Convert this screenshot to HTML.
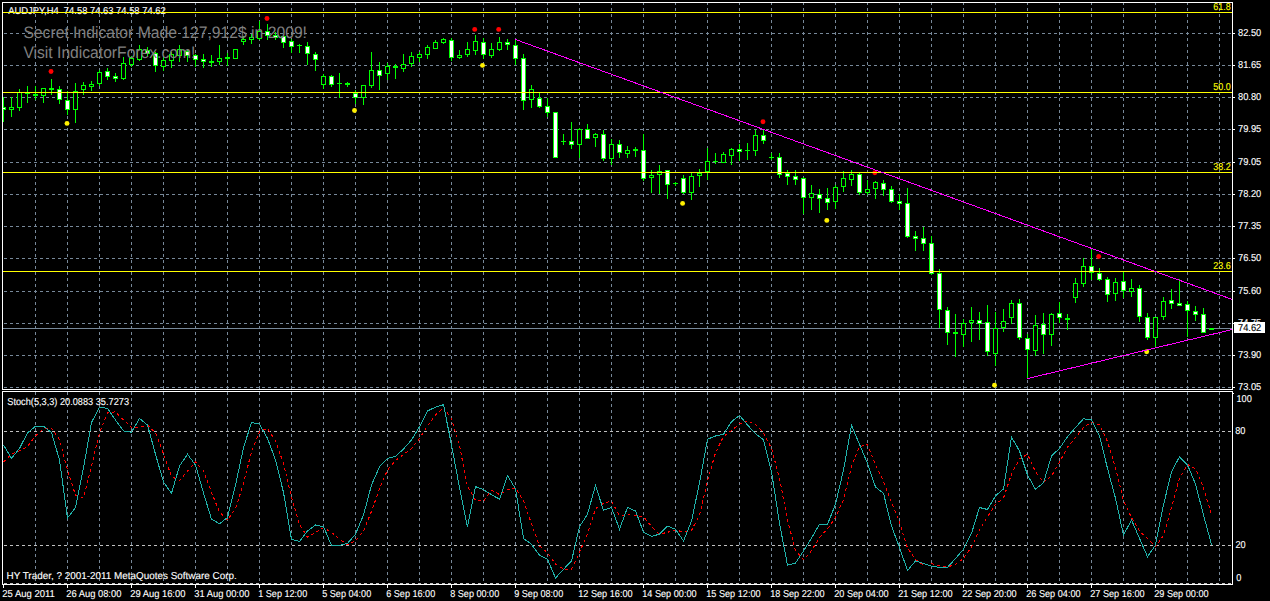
<!DOCTYPE html>
<html><head><meta charset="utf-8"><title>AUDJPY,H4</title>
<style>html,body{margin:0;padding:0;background:#000;width:1270px;height:601px;overflow:hidden}</style>
</head><body>
<svg width="1270" height="601" viewBox="0 0 1270 601" style="display:block;position:absolute;left:0;top:0" font-family="'Liberation Sans',sans-serif" text-rendering="geometricPrecision">
<rect width="1270" height="601" fill="#000"/>
<g shape-rendering="crispEdges">
<line x1="35.5" y1="3" x2="35.5" y2="5" stroke="#778899" stroke-width="1"/>
<line x1="35.5" y1="8" x2="35.5" y2="389" stroke="#778899" stroke-width="1" stroke-dasharray="3 3"/>
<line x1="35.5" y1="392" x2="35.5" y2="583" stroke="#778899" stroke-width="1" stroke-dasharray="3 3"/>
<line x1="67.5" y1="3" x2="67.5" y2="5" stroke="#778899" stroke-width="1"/>
<line x1="67.5" y1="8" x2="67.5" y2="389" stroke="#778899" stroke-width="1" stroke-dasharray="3 3"/>
<line x1="67.5" y1="392" x2="67.5" y2="583" stroke="#778899" stroke-width="1" stroke-dasharray="3 3"/>
<line x1="99.5" y1="3" x2="99.5" y2="5" stroke="#778899" stroke-width="1"/>
<line x1="99.5" y1="8" x2="99.5" y2="389" stroke="#778899" stroke-width="1" stroke-dasharray="3 3"/>
<line x1="99.5" y1="392" x2="99.5" y2="583" stroke="#778899" stroke-width="1" stroke-dasharray="3 3"/>
<line x1="131.5" y1="3" x2="131.5" y2="5" stroke="#778899" stroke-width="1"/>
<line x1="131.5" y1="8" x2="131.5" y2="389" stroke="#778899" stroke-width="1" stroke-dasharray="3 3"/>
<line x1="131.5" y1="392" x2="131.5" y2="583" stroke="#778899" stroke-width="1" stroke-dasharray="3 3"/>
<line x1="163.5" y1="3" x2="163.5" y2="5" stroke="#778899" stroke-width="1"/>
<line x1="163.5" y1="8" x2="163.5" y2="389" stroke="#778899" stroke-width="1" stroke-dasharray="3 3"/>
<line x1="163.5" y1="392" x2="163.5" y2="583" stroke="#778899" stroke-width="1" stroke-dasharray="3 3"/>
<line x1="195.5" y1="3" x2="195.5" y2="5" stroke="#778899" stroke-width="1"/>
<line x1="195.5" y1="8" x2="195.5" y2="389" stroke="#778899" stroke-width="1" stroke-dasharray="3 3"/>
<line x1="195.5" y1="392" x2="195.5" y2="583" stroke="#778899" stroke-width="1" stroke-dasharray="3 3"/>
<line x1="227.5" y1="3" x2="227.5" y2="5" stroke="#778899" stroke-width="1"/>
<line x1="227.5" y1="8" x2="227.5" y2="389" stroke="#778899" stroke-width="1" stroke-dasharray="3 3"/>
<line x1="227.5" y1="392" x2="227.5" y2="583" stroke="#778899" stroke-width="1" stroke-dasharray="3 3"/>
<line x1="259.5" y1="3" x2="259.5" y2="5" stroke="#778899" stroke-width="1"/>
<line x1="259.5" y1="8" x2="259.5" y2="389" stroke="#778899" stroke-width="1" stroke-dasharray="3 3"/>
<line x1="259.5" y1="392" x2="259.5" y2="583" stroke="#778899" stroke-width="1" stroke-dasharray="3 3"/>
<line x1="291.5" y1="3" x2="291.5" y2="5" stroke="#778899" stroke-width="1"/>
<line x1="291.5" y1="8" x2="291.5" y2="389" stroke="#778899" stroke-width="1" stroke-dasharray="3 3"/>
<line x1="291.5" y1="392" x2="291.5" y2="583" stroke="#778899" stroke-width="1" stroke-dasharray="3 3"/>
<line x1="323.5" y1="3" x2="323.5" y2="5" stroke="#778899" stroke-width="1"/>
<line x1="323.5" y1="8" x2="323.5" y2="389" stroke="#778899" stroke-width="1" stroke-dasharray="3 3"/>
<line x1="323.5" y1="392" x2="323.5" y2="583" stroke="#778899" stroke-width="1" stroke-dasharray="3 3"/>
<line x1="355.5" y1="3" x2="355.5" y2="5" stroke="#778899" stroke-width="1"/>
<line x1="355.5" y1="8" x2="355.5" y2="389" stroke="#778899" stroke-width="1" stroke-dasharray="3 3"/>
<line x1="355.5" y1="392" x2="355.5" y2="583" stroke="#778899" stroke-width="1" stroke-dasharray="3 3"/>
<line x1="387.5" y1="3" x2="387.5" y2="5" stroke="#778899" stroke-width="1"/>
<line x1="387.5" y1="8" x2="387.5" y2="389" stroke="#778899" stroke-width="1" stroke-dasharray="3 3"/>
<line x1="387.5" y1="392" x2="387.5" y2="583" stroke="#778899" stroke-width="1" stroke-dasharray="3 3"/>
<line x1="419.5" y1="3" x2="419.5" y2="5" stroke="#778899" stroke-width="1"/>
<line x1="419.5" y1="8" x2="419.5" y2="389" stroke="#778899" stroke-width="1" stroke-dasharray="3 3"/>
<line x1="419.5" y1="392" x2="419.5" y2="583" stroke="#778899" stroke-width="1" stroke-dasharray="3 3"/>
<line x1="451.5" y1="3" x2="451.5" y2="5" stroke="#778899" stroke-width="1"/>
<line x1="451.5" y1="8" x2="451.5" y2="389" stroke="#778899" stroke-width="1" stroke-dasharray="3 3"/>
<line x1="451.5" y1="392" x2="451.5" y2="583" stroke="#778899" stroke-width="1" stroke-dasharray="3 3"/>
<line x1="483.5" y1="3" x2="483.5" y2="5" stroke="#778899" stroke-width="1"/>
<line x1="483.5" y1="8" x2="483.5" y2="389" stroke="#778899" stroke-width="1" stroke-dasharray="3 3"/>
<line x1="483.5" y1="392" x2="483.5" y2="583" stroke="#778899" stroke-width="1" stroke-dasharray="3 3"/>
<line x1="515.5" y1="3" x2="515.5" y2="5" stroke="#778899" stroke-width="1"/>
<line x1="515.5" y1="8" x2="515.5" y2="389" stroke="#778899" stroke-width="1" stroke-dasharray="3 3"/>
<line x1="515.5" y1="392" x2="515.5" y2="583" stroke="#778899" stroke-width="1" stroke-dasharray="3 3"/>
<line x1="547.5" y1="3" x2="547.5" y2="5" stroke="#778899" stroke-width="1"/>
<line x1="547.5" y1="8" x2="547.5" y2="389" stroke="#778899" stroke-width="1" stroke-dasharray="3 3"/>
<line x1="547.5" y1="392" x2="547.5" y2="583" stroke="#778899" stroke-width="1" stroke-dasharray="3 3"/>
<line x1="579.5" y1="3" x2="579.5" y2="5" stroke="#778899" stroke-width="1"/>
<line x1="579.5" y1="8" x2="579.5" y2="389" stroke="#778899" stroke-width="1" stroke-dasharray="3 3"/>
<line x1="579.5" y1="392" x2="579.5" y2="583" stroke="#778899" stroke-width="1" stroke-dasharray="3 3"/>
<line x1="611.5" y1="3" x2="611.5" y2="5" stroke="#778899" stroke-width="1"/>
<line x1="611.5" y1="8" x2="611.5" y2="389" stroke="#778899" stroke-width="1" stroke-dasharray="3 3"/>
<line x1="611.5" y1="392" x2="611.5" y2="583" stroke="#778899" stroke-width="1" stroke-dasharray="3 3"/>
<line x1="643.5" y1="3" x2="643.5" y2="5" stroke="#778899" stroke-width="1"/>
<line x1="643.5" y1="8" x2="643.5" y2="389" stroke="#778899" stroke-width="1" stroke-dasharray="3 3"/>
<line x1="643.5" y1="392" x2="643.5" y2="583" stroke="#778899" stroke-width="1" stroke-dasharray="3 3"/>
<line x1="675.5" y1="3" x2="675.5" y2="5" stroke="#778899" stroke-width="1"/>
<line x1="675.5" y1="8" x2="675.5" y2="389" stroke="#778899" stroke-width="1" stroke-dasharray="3 3"/>
<line x1="675.5" y1="392" x2="675.5" y2="583" stroke="#778899" stroke-width="1" stroke-dasharray="3 3"/>
<line x1="707.5" y1="3" x2="707.5" y2="5" stroke="#778899" stroke-width="1"/>
<line x1="707.5" y1="8" x2="707.5" y2="389" stroke="#778899" stroke-width="1" stroke-dasharray="3 3"/>
<line x1="707.5" y1="392" x2="707.5" y2="583" stroke="#778899" stroke-width="1" stroke-dasharray="3 3"/>
<line x1="739.5" y1="3" x2="739.5" y2="5" stroke="#778899" stroke-width="1"/>
<line x1="739.5" y1="8" x2="739.5" y2="389" stroke="#778899" stroke-width="1" stroke-dasharray="3 3"/>
<line x1="739.5" y1="392" x2="739.5" y2="583" stroke="#778899" stroke-width="1" stroke-dasharray="3 3"/>
<line x1="771.5" y1="3" x2="771.5" y2="5" stroke="#778899" stroke-width="1"/>
<line x1="771.5" y1="8" x2="771.5" y2="389" stroke="#778899" stroke-width="1" stroke-dasharray="3 3"/>
<line x1="771.5" y1="392" x2="771.5" y2="583" stroke="#778899" stroke-width="1" stroke-dasharray="3 3"/>
<line x1="803.5" y1="3" x2="803.5" y2="5" stroke="#778899" stroke-width="1"/>
<line x1="803.5" y1="8" x2="803.5" y2="389" stroke="#778899" stroke-width="1" stroke-dasharray="3 3"/>
<line x1="803.5" y1="392" x2="803.5" y2="583" stroke="#778899" stroke-width="1" stroke-dasharray="3 3"/>
<line x1="835.5" y1="3" x2="835.5" y2="5" stroke="#778899" stroke-width="1"/>
<line x1="835.5" y1="8" x2="835.5" y2="389" stroke="#778899" stroke-width="1" stroke-dasharray="3 3"/>
<line x1="835.5" y1="392" x2="835.5" y2="583" stroke="#778899" stroke-width="1" stroke-dasharray="3 3"/>
<line x1="867.5" y1="3" x2="867.5" y2="5" stroke="#778899" stroke-width="1"/>
<line x1="867.5" y1="8" x2="867.5" y2="389" stroke="#778899" stroke-width="1" stroke-dasharray="3 3"/>
<line x1="867.5" y1="392" x2="867.5" y2="583" stroke="#778899" stroke-width="1" stroke-dasharray="3 3"/>
<line x1="899.5" y1="3" x2="899.5" y2="5" stroke="#778899" stroke-width="1"/>
<line x1="899.5" y1="8" x2="899.5" y2="389" stroke="#778899" stroke-width="1" stroke-dasharray="3 3"/>
<line x1="899.5" y1="392" x2="899.5" y2="583" stroke="#778899" stroke-width="1" stroke-dasharray="3 3"/>
<line x1="931.5" y1="3" x2="931.5" y2="5" stroke="#778899" stroke-width="1"/>
<line x1="931.5" y1="8" x2="931.5" y2="389" stroke="#778899" stroke-width="1" stroke-dasharray="3 3"/>
<line x1="931.5" y1="392" x2="931.5" y2="583" stroke="#778899" stroke-width="1" stroke-dasharray="3 3"/>
<line x1="963.5" y1="3" x2="963.5" y2="5" stroke="#778899" stroke-width="1"/>
<line x1="963.5" y1="8" x2="963.5" y2="389" stroke="#778899" stroke-width="1" stroke-dasharray="3 3"/>
<line x1="963.5" y1="392" x2="963.5" y2="583" stroke="#778899" stroke-width="1" stroke-dasharray="3 3"/>
<line x1="995.5" y1="3" x2="995.5" y2="5" stroke="#778899" stroke-width="1"/>
<line x1="995.5" y1="8" x2="995.5" y2="389" stroke="#778899" stroke-width="1" stroke-dasharray="3 3"/>
<line x1="995.5" y1="392" x2="995.5" y2="583" stroke="#778899" stroke-width="1" stroke-dasharray="3 3"/>
<line x1="1027.5" y1="3" x2="1027.5" y2="5" stroke="#778899" stroke-width="1"/>
<line x1="1027.5" y1="8" x2="1027.5" y2="389" stroke="#778899" stroke-width="1" stroke-dasharray="3 3"/>
<line x1="1027.5" y1="392" x2="1027.5" y2="583" stroke="#778899" stroke-width="1" stroke-dasharray="3 3"/>
<line x1="1059.5" y1="3" x2="1059.5" y2="5" stroke="#778899" stroke-width="1"/>
<line x1="1059.5" y1="8" x2="1059.5" y2="389" stroke="#778899" stroke-width="1" stroke-dasharray="3 3"/>
<line x1="1059.5" y1="392" x2="1059.5" y2="583" stroke="#778899" stroke-width="1" stroke-dasharray="3 3"/>
<line x1="1091.5" y1="3" x2="1091.5" y2="5" stroke="#778899" stroke-width="1"/>
<line x1="1091.5" y1="8" x2="1091.5" y2="389" stroke="#778899" stroke-width="1" stroke-dasharray="3 3"/>
<line x1="1091.5" y1="392" x2="1091.5" y2="583" stroke="#778899" stroke-width="1" stroke-dasharray="3 3"/>
<line x1="1123.5" y1="3" x2="1123.5" y2="5" stroke="#778899" stroke-width="1"/>
<line x1="1123.5" y1="8" x2="1123.5" y2="389" stroke="#778899" stroke-width="1" stroke-dasharray="3 3"/>
<line x1="1123.5" y1="392" x2="1123.5" y2="583" stroke="#778899" stroke-width="1" stroke-dasharray="3 3"/>
<line x1="1155.5" y1="3" x2="1155.5" y2="5" stroke="#778899" stroke-width="1"/>
<line x1="1155.5" y1="8" x2="1155.5" y2="389" stroke="#778899" stroke-width="1" stroke-dasharray="3 3"/>
<line x1="1155.5" y1="392" x2="1155.5" y2="583" stroke="#778899" stroke-width="1" stroke-dasharray="3 3"/>
<line x1="1187.5" y1="3" x2="1187.5" y2="5" stroke="#778899" stroke-width="1"/>
<line x1="1187.5" y1="8" x2="1187.5" y2="389" stroke="#778899" stroke-width="1" stroke-dasharray="3 3"/>
<line x1="1187.5" y1="392" x2="1187.5" y2="583" stroke="#778899" stroke-width="1" stroke-dasharray="3 3"/>
<line x1="1219.5" y1="3" x2="1219.5" y2="5" stroke="#778899" stroke-width="1"/>
<line x1="1219.5" y1="8" x2="1219.5" y2="389" stroke="#778899" stroke-width="1" stroke-dasharray="3 3"/>
<line x1="1219.5" y1="392" x2="1219.5" y2="583" stroke="#778899" stroke-width="1" stroke-dasharray="3 3"/>
<line x1="4" y1="33.5" x2="1232" y2="33.5" stroke="#778899" stroke-width="1" stroke-dasharray="3 3"/>
<line x1="4" y1="65.5" x2="1232" y2="65.5" stroke="#778899" stroke-width="1" stroke-dasharray="3 3"/>
<line x1="4" y1="97.5" x2="1232" y2="97.5" stroke="#778899" stroke-width="1" stroke-dasharray="3 3"/>
<line x1="4" y1="129.5" x2="1232" y2="129.5" stroke="#778899" stroke-width="1" stroke-dasharray="3 3"/>
<line x1="4" y1="162.5" x2="1232" y2="162.5" stroke="#778899" stroke-width="1" stroke-dasharray="3 3"/>
<line x1="4" y1="194.5" x2="1232" y2="194.5" stroke="#778899" stroke-width="1" stroke-dasharray="3 3"/>
<line x1="4" y1="226.5" x2="1232" y2="226.5" stroke="#778899" stroke-width="1" stroke-dasharray="3 3"/>
<line x1="4" y1="258.5" x2="1232" y2="258.5" stroke="#778899" stroke-width="1" stroke-dasharray="3 3"/>
<line x1="4" y1="291.5" x2="1232" y2="291.5" stroke="#778899" stroke-width="1" stroke-dasharray="3 3"/>
<line x1="4" y1="323.5" x2="1232" y2="323.5" stroke="#778899" stroke-width="1" stroke-dasharray="3 3"/>
<line x1="4" y1="355.5" x2="1232" y2="355.5" stroke="#778899" stroke-width="1" stroke-dasharray="3 3"/>
<line x1="4" y1="387.5" x2="1232" y2="387.5" stroke="#778899" stroke-width="1" stroke-dasharray="3 3"/>
<line x1="4" y1="431.5" x2="1232" y2="431.5" stroke="#c0c0c0" stroke-width="1" stroke-dasharray="3 3"/>
<line x1="4" y1="545.5" x2="1232" y2="545.5" stroke="#c0c0c0" stroke-width="1" stroke-dasharray="3 3"/>
<line x1="4" y1="583.5" x2="1232" y2="583.5" stroke="#c0c0c0" stroke-width="1" stroke-dasharray="3 3"/>
</g>
<g shape-rendering="crispEdges">
<line x1="3" y1="328.5" x2="1232" y2="328.5" stroke="#778899" stroke-width="1"/>
<rect x="3" y="97" width="1" height="25" fill="#00ff00"/>
<rect x="3" y="107" width="3" height="3" fill="#00ff00"/>
<rect x="3" y="108" width="2" height="1" fill="#fff"/>
<rect x="11" y="97" width="1" height="20" fill="#00ff00"/>
<rect x="9" y="107" width="5" height="3" fill="#00ff00"/>
<rect x="10" y="108" width="3" height="1" fill="#000"/>
<rect x="19" y="89" width="1" height="22" fill="#00ff00"/>
<rect x="17" y="92" width="5" height="16" fill="#00ff00"/>
<rect x="18" y="93" width="3" height="14" fill="#000"/>
<rect x="27" y="86" width="1" height="17" fill="#00ff00"/>
<rect x="25" y="93" width="5" height="1" fill="#00ff00"/>
<rect x="35" y="86" width="1" height="14" fill="#00ff00"/>
<rect x="33" y="94" width="5" height="2" fill="#00ff00"/>
<rect x="43" y="88" width="1" height="15" fill="#00ff00"/>
<rect x="41" y="88" width="5" height="8" fill="#00ff00"/>
<rect x="42" y="89" width="3" height="6" fill="#000"/>
<rect x="51" y="79" width="1" height="16" fill="#00ff00"/>
<rect x="49" y="88" width="5" height="2" fill="#00ff00"/>
<rect x="59" y="86" width="1" height="18" fill="#00ff00"/>
<rect x="57" y="89" width="5" height="11" fill="#00ff00"/>
<rect x="58" y="90" width="3" height="9" fill="#fff"/>
<rect x="67" y="91" width="1" height="24" fill="#00ff00"/>
<rect x="65" y="100" width="5" height="10" fill="#00ff00"/>
<rect x="66" y="101" width="3" height="8" fill="#fff"/>
<rect x="75" y="83" width="1" height="40" fill="#00ff00"/>
<rect x="73" y="91" width="5" height="19" fill="#00ff00"/>
<rect x="74" y="92" width="3" height="17" fill="#000"/>
<rect x="83" y="82" width="1" height="13" fill="#00ff00"/>
<rect x="81" y="85" width="5" height="5" fill="#00ff00"/>
<rect x="82" y="86" width="3" height="3" fill="#000"/>
<rect x="91" y="81" width="1" height="10" fill="#00ff00"/>
<rect x="89" y="84" width="5" height="3" fill="#00ff00"/>
<rect x="90" y="85" width="3" height="1" fill="#000"/>
<rect x="99" y="70" width="1" height="16" fill="#00ff00"/>
<rect x="97" y="72" width="5" height="12" fill="#00ff00"/>
<rect x="98" y="73" width="3" height="10" fill="#000"/>
<rect x="107" y="68" width="1" height="12" fill="#00ff00"/>
<rect x="105" y="71" width="5" height="6" fill="#00ff00"/>
<rect x="106" y="72" width="3" height="4" fill="#fff"/>
<rect x="115" y="73" width="1" height="9" fill="#00ff00"/>
<rect x="113" y="76" width="5" height="3" fill="#00ff00"/>
<rect x="114" y="77" width="3" height="1" fill="#fff"/>
<rect x="123" y="57" width="1" height="23" fill="#00ff00"/>
<rect x="121" y="63" width="5" height="16" fill="#00ff00"/>
<rect x="122" y="64" width="3" height="14" fill="#000"/>
<rect x="131" y="56" width="1" height="11" fill="#00ff00"/>
<rect x="129" y="58" width="5" height="7" fill="#00ff00"/>
<rect x="130" y="59" width="3" height="5" fill="#000"/>
<rect x="139" y="45" width="1" height="16" fill="#00ff00"/>
<rect x="137" y="49" width="5" height="11" fill="#00ff00"/>
<rect x="138" y="50" width="3" height="9" fill="#000"/>
<rect x="147" y="47" width="1" height="9" fill="#00ff00"/>
<rect x="145" y="50" width="5" height="4" fill="#00ff00"/>
<rect x="146" y="51" width="3" height="2" fill="#fff"/>
<rect x="155" y="52" width="1" height="20" fill="#00ff00"/>
<rect x="153" y="53" width="5" height="13" fill="#00ff00"/>
<rect x="154" y="54" width="3" height="11" fill="#fff"/>
<rect x="163" y="57" width="1" height="14" fill="#00ff00"/>
<rect x="161" y="60" width="5" height="7" fill="#00ff00"/>
<rect x="162" y="61" width="3" height="5" fill="#000"/>
<rect x="171" y="52" width="1" height="16" fill="#00ff00"/>
<rect x="169" y="54" width="5" height="7" fill="#00ff00"/>
<rect x="170" y="55" width="3" height="5" fill="#000"/>
<rect x="179" y="45" width="1" height="17" fill="#00ff00"/>
<rect x="177" y="49" width="5" height="7" fill="#00ff00"/>
<rect x="178" y="50" width="3" height="5" fill="#000"/>
<rect x="187" y="49" width="1" height="13" fill="#00ff00"/>
<rect x="185" y="51" width="5" height="5" fill="#00ff00"/>
<rect x="186" y="52" width="3" height="3" fill="#fff"/>
<rect x="195" y="54" width="1" height="13" fill="#00ff00"/>
<rect x="193" y="55" width="5" height="5" fill="#00ff00"/>
<rect x="194" y="56" width="3" height="3" fill="#fff"/>
<rect x="203" y="54" width="1" height="14" fill="#00ff00"/>
<rect x="201" y="59" width="5" height="3" fill="#00ff00"/>
<rect x="202" y="60" width="3" height="1" fill="#fff"/>
<rect x="211" y="55" width="1" height="12" fill="#00ff00"/>
<rect x="209" y="61" width="5" height="2" fill="#00ff00"/>
<rect x="219" y="45" width="1" height="20" fill="#00ff00"/>
<rect x="217" y="58" width="5" height="4" fill="#00ff00"/>
<rect x="218" y="59" width="3" height="2" fill="#000"/>
<rect x="227" y="53" width="1" height="13" fill="#00ff00"/>
<rect x="225" y="57" width="5" height="2" fill="#00ff00"/>
<rect x="235" y="49" width="1" height="10" fill="#00ff00"/>
<rect x="233" y="49" width="5" height="10" fill="#00ff00"/>
<rect x="234" y="50" width="3" height="8" fill="#000"/>
<rect x="243" y="36" width="1" height="9" fill="#00ff00"/>
<rect x="241" y="39" width="5" height="3" fill="#00ff00"/>
<rect x="242" y="40" width="3" height="1" fill="#000"/>
<rect x="251" y="34" width="1" height="10" fill="#00ff00"/>
<rect x="249" y="37" width="5" height="3" fill="#00ff00"/>
<rect x="250" y="38" width="3" height="1" fill="#000"/>
<rect x="259" y="21" width="1" height="19" fill="#00ff00"/>
<rect x="257" y="31" width="5" height="8" fill="#00ff00"/>
<rect x="258" y="32" width="3" height="6" fill="#000"/>
<rect x="267" y="24" width="1" height="16" fill="#00ff00"/>
<rect x="265" y="31" width="5" height="5" fill="#00ff00"/>
<rect x="266" y="32" width="3" height="3" fill="#fff"/>
<rect x="275" y="32" width="1" height="8" fill="#00ff00"/>
<rect x="273" y="35" width="5" height="3" fill="#00ff00"/>
<rect x="274" y="36" width="3" height="1" fill="#fff"/>
<rect x="283" y="36" width="1" height="12" fill="#00ff00"/>
<rect x="281" y="36" width="5" height="7" fill="#00ff00"/>
<rect x="282" y="37" width="3" height="5" fill="#fff"/>
<rect x="291" y="39" width="1" height="14" fill="#00ff00"/>
<rect x="289" y="41" width="5" height="6" fill="#00ff00"/>
<rect x="290" y="42" width="3" height="4" fill="#fff"/>
<rect x="299" y="44" width="1" height="9" fill="#00ff00"/>
<rect x="297" y="45" width="5" height="1" fill="#00ff00"/>
<rect x="307" y="42" width="1" height="23" fill="#00ff00"/>
<rect x="305" y="46" width="5" height="8" fill="#00ff00"/>
<rect x="306" y="47" width="3" height="6" fill="#fff"/>
<rect x="315" y="52" width="1" height="19" fill="#00ff00"/>
<rect x="313" y="54" width="5" height="6" fill="#00ff00"/>
<rect x="314" y="55" width="3" height="4" fill="#fff"/>
<rect x="323" y="74" width="1" height="15" fill="#00ff00"/>
<rect x="321" y="76" width="5" height="9" fill="#00ff00"/>
<rect x="322" y="77" width="3" height="7" fill="#000"/>
<rect x="331" y="75" width="1" height="12" fill="#00ff00"/>
<rect x="329" y="76" width="5" height="9" fill="#00ff00"/>
<rect x="330" y="77" width="3" height="7" fill="#fff"/>
<rect x="339" y="73" width="1" height="25" fill="#00ff00"/>
<rect x="337" y="83" width="5" height="1" fill="#00ff00"/>
<rect x="347" y="82" width="1" height="5" fill="#00ff00"/>
<rect x="345" y="83" width="5" height="2" fill="#00ff00"/>
<rect x="355" y="90" width="1" height="14" fill="#00ff00"/>
<rect x="353" y="93" width="5" height="5" fill="#00ff00"/>
<rect x="354" y="94" width="3" height="3" fill="#fff"/>
<rect x="363" y="85" width="1" height="20" fill="#00ff00"/>
<rect x="361" y="85" width="5" height="13" fill="#00ff00"/>
<rect x="362" y="86" width="3" height="11" fill="#000"/>
<rect x="371" y="52" width="1" height="36" fill="#00ff00"/>
<rect x="369" y="70" width="5" height="16" fill="#00ff00"/>
<rect x="370" y="71" width="3" height="14" fill="#000"/>
<rect x="379" y="62" width="1" height="28" fill="#00ff00"/>
<rect x="377" y="70" width="5" height="6" fill="#00ff00"/>
<rect x="378" y="71" width="3" height="4" fill="#fff"/>
<rect x="387" y="63" width="1" height="17" fill="#00ff00"/>
<rect x="385" y="66" width="5" height="8" fill="#00ff00"/>
<rect x="386" y="67" width="3" height="6" fill="#000"/>
<rect x="395" y="64" width="1" height="15" fill="#00ff00"/>
<rect x="393" y="66" width="5" height="2" fill="#00ff00"/>
<rect x="403" y="54" width="1" height="18" fill="#00ff00"/>
<rect x="401" y="64" width="5" height="5" fill="#00ff00"/>
<rect x="402" y="65" width="3" height="3" fill="#000"/>
<rect x="411" y="52" width="1" height="15" fill="#00ff00"/>
<rect x="409" y="56" width="5" height="8" fill="#00ff00"/>
<rect x="410" y="57" width="3" height="6" fill="#000"/>
<rect x="419" y="52" width="1" height="10" fill="#00ff00"/>
<rect x="417" y="54" width="5" height="4" fill="#00ff00"/>
<rect x="418" y="55" width="3" height="2" fill="#000"/>
<rect x="427" y="45" width="1" height="14" fill="#00ff00"/>
<rect x="425" y="47" width="5" height="8" fill="#00ff00"/>
<rect x="426" y="48" width="3" height="6" fill="#000"/>
<rect x="435" y="40" width="1" height="9" fill="#00ff00"/>
<rect x="433" y="42" width="5" height="7" fill="#00ff00"/>
<rect x="434" y="43" width="3" height="5" fill="#000"/>
<rect x="443" y="38" width="1" height="6" fill="#00ff00"/>
<rect x="441" y="39" width="5" height="4" fill="#00ff00"/>
<rect x="442" y="40" width="3" height="2" fill="#000"/>
<rect x="451" y="38" width="1" height="23" fill="#00ff00"/>
<rect x="449" y="40" width="5" height="18" fill="#00ff00"/>
<rect x="450" y="41" width="3" height="16" fill="#fff"/>
<rect x="459" y="50" width="1" height="9" fill="#00ff00"/>
<rect x="457" y="55" width="5" height="3" fill="#00ff00"/>
<rect x="458" y="56" width="3" height="1" fill="#000"/>
<rect x="467" y="42" width="1" height="15" fill="#00ff00"/>
<rect x="465" y="49" width="5" height="6" fill="#00ff00"/>
<rect x="466" y="50" width="3" height="4" fill="#000"/>
<rect x="475" y="35" width="1" height="20" fill="#00ff00"/>
<rect x="473" y="41" width="5" height="10" fill="#00ff00"/>
<rect x="474" y="42" width="3" height="8" fill="#000"/>
<rect x="483" y="38" width="1" height="21" fill="#00ff00"/>
<rect x="481" y="42" width="5" height="13" fill="#00ff00"/>
<rect x="482" y="43" width="3" height="11" fill="#fff"/>
<rect x="491" y="43" width="1" height="15" fill="#00ff00"/>
<rect x="489" y="49" width="5" height="7" fill="#00ff00"/>
<rect x="490" y="50" width="3" height="5" fill="#000"/>
<rect x="499" y="37" width="1" height="14" fill="#00ff00"/>
<rect x="497" y="42" width="5" height="8" fill="#00ff00"/>
<rect x="498" y="43" width="3" height="6" fill="#000"/>
<rect x="507" y="39" width="1" height="11" fill="#00ff00"/>
<rect x="505" y="42" width="5" height="3" fill="#00ff00"/>
<rect x="506" y="43" width="3" height="1" fill="#fff"/>
<rect x="515" y="40" width="1" height="25" fill="#00ff00"/>
<rect x="513" y="45" width="5" height="14" fill="#00ff00"/>
<rect x="514" y="46" width="3" height="12" fill="#fff"/>
<rect x="523" y="54" width="1" height="56" fill="#00ff00"/>
<rect x="521" y="58" width="5" height="43" fill="#00ff00"/>
<rect x="522" y="59" width="3" height="41" fill="#fff"/>
<rect x="531" y="85" width="1" height="23" fill="#00ff00"/>
<rect x="529" y="89" width="5" height="11" fill="#00ff00"/>
<rect x="530" y="90" width="3" height="9" fill="#000"/>
<rect x="539" y="93" width="1" height="15" fill="#00ff00"/>
<rect x="537" y="98" width="5" height="9" fill="#00ff00"/>
<rect x="538" y="99" width="3" height="7" fill="#fff"/>
<rect x="547" y="98" width="1" height="19" fill="#00ff00"/>
<rect x="545" y="106" width="5" height="7" fill="#00ff00"/>
<rect x="546" y="107" width="3" height="5" fill="#fff"/>
<rect x="555" y="112" width="1" height="46" fill="#00ff00"/>
<rect x="553" y="112" width="5" height="46" fill="#00ff00"/>
<rect x="554" y="113" width="3" height="44" fill="#fff"/>
<rect x="563" y="134" width="1" height="11" fill="#00ff00"/>
<rect x="561" y="141" width="5" height="1" fill="#00ff00"/>
<rect x="571" y="122" width="1" height="27" fill="#00ff00"/>
<rect x="569" y="141" width="5" height="4" fill="#00ff00"/>
<rect x="570" y="142" width="3" height="2" fill="#fff"/>
<rect x="579" y="128" width="1" height="30" fill="#00ff00"/>
<rect x="577" y="129" width="5" height="16" fill="#00ff00"/>
<rect x="578" y="130" width="3" height="14" fill="#000"/>
<rect x="587" y="124" width="1" height="15" fill="#00ff00"/>
<rect x="585" y="129" width="5" height="10" fill="#00ff00"/>
<rect x="586" y="130" width="3" height="8" fill="#fff"/>
<rect x="595" y="133" width="1" height="14" fill="#00ff00"/>
<rect x="593" y="134" width="5" height="4" fill="#00ff00"/>
<rect x="594" y="135" width="3" height="2" fill="#000"/>
<rect x="603" y="130" width="1" height="31" fill="#00ff00"/>
<rect x="601" y="134" width="5" height="25" fill="#00ff00"/>
<rect x="602" y="135" width="3" height="23" fill="#fff"/>
<rect x="611" y="139" width="1" height="26" fill="#00ff00"/>
<rect x="609" y="144" width="5" height="15" fill="#00ff00"/>
<rect x="610" y="145" width="3" height="13" fill="#000"/>
<rect x="619" y="140" width="1" height="18" fill="#00ff00"/>
<rect x="617" y="144" width="5" height="9" fill="#00ff00"/>
<rect x="618" y="145" width="3" height="7" fill="#fff"/>
<rect x="627" y="146" width="1" height="12" fill="#00ff00"/>
<rect x="625" y="150" width="5" height="4" fill="#00ff00"/>
<rect x="626" y="151" width="3" height="2" fill="#000"/>
<rect x="635" y="147" width="1" height="10" fill="#00ff00"/>
<rect x="633" y="149" width="5" height="2" fill="#00ff00"/>
<rect x="643" y="134" width="1" height="47" fill="#00ff00"/>
<rect x="641" y="150" width="5" height="29" fill="#00ff00"/>
<rect x="642" y="151" width="3" height="27" fill="#fff"/>
<rect x="651" y="170" width="1" height="23" fill="#00ff00"/>
<rect x="649" y="175" width="5" height="3" fill="#00ff00"/>
<rect x="650" y="176" width="3" height="1" fill="#000"/>
<rect x="659" y="165" width="1" height="29" fill="#00ff00"/>
<rect x="657" y="171" width="5" height="4" fill="#00ff00"/>
<rect x="658" y="172" width="3" height="2" fill="#000"/>
<rect x="667" y="170" width="1" height="29" fill="#00ff00"/>
<rect x="665" y="170" width="5" height="15" fill="#00ff00"/>
<rect x="666" y="171" width="3" height="13" fill="#fff"/>
<rect x="675" y="182" width="1" height="4" fill="#00ff00"/>
<rect x="673" y="183" width="5" height="1" fill="#00ff00"/>
<rect x="683" y="175" width="1" height="19" fill="#00ff00"/>
<rect x="681" y="178" width="5" height="15" fill="#00ff00"/>
<rect x="682" y="179" width="3" height="13" fill="#fff"/>
<rect x="691" y="173" width="1" height="27" fill="#00ff00"/>
<rect x="689" y="176" width="5" height="17" fill="#00ff00"/>
<rect x="690" y="177" width="3" height="15" fill="#000"/>
<rect x="699" y="169" width="1" height="18" fill="#00ff00"/>
<rect x="697" y="173" width="5" height="3" fill="#00ff00"/>
<rect x="698" y="174" width="3" height="1" fill="#000"/>
<rect x="707" y="148" width="1" height="32" fill="#00ff00"/>
<rect x="705" y="161" width="5" height="11" fill="#00ff00"/>
<rect x="706" y="162" width="3" height="9" fill="#000"/>
<rect x="715" y="153" width="1" height="11" fill="#00ff00"/>
<rect x="713" y="161" width="5" height="1" fill="#00ff00"/>
<rect x="723" y="152" width="1" height="11" fill="#00ff00"/>
<rect x="721" y="154" width="5" height="9" fill="#00ff00"/>
<rect x="722" y="155" width="3" height="7" fill="#000"/>
<rect x="731" y="148" width="1" height="17" fill="#00ff00"/>
<rect x="729" y="149" width="5" height="7" fill="#00ff00"/>
<rect x="730" y="150" width="3" height="5" fill="#000"/>
<rect x="739" y="144" width="1" height="17" fill="#00ff00"/>
<rect x="737" y="149" width="5" height="3" fill="#00ff00"/>
<rect x="738" y="150" width="3" height="1" fill="#fff"/>
<rect x="747" y="143" width="1" height="17" fill="#00ff00"/>
<rect x="745" y="150" width="5" height="1" fill="#00ff00"/>
<rect x="755" y="130" width="1" height="26" fill="#00ff00"/>
<rect x="753" y="135" width="5" height="16" fill="#00ff00"/>
<rect x="754" y="136" width="3" height="14" fill="#000"/>
<rect x="763" y="130" width="1" height="14" fill="#00ff00"/>
<rect x="761" y="135" width="5" height="6" fill="#00ff00"/>
<rect x="762" y="136" width="3" height="4" fill="#fff"/>
<rect x="771" y="153" width="1" height="7" fill="#00ff00"/>
<rect x="769" y="157" width="5" height="1" fill="#00ff00"/>
<rect x="779" y="153" width="1" height="25" fill="#00ff00"/>
<rect x="777" y="157" width="5" height="18" fill="#00ff00"/>
<rect x="778" y="158" width="3" height="16" fill="#fff"/>
<rect x="787" y="170" width="1" height="15" fill="#00ff00"/>
<rect x="785" y="173" width="5" height="4" fill="#00ff00"/>
<rect x="786" y="174" width="3" height="2" fill="#fff"/>
<rect x="795" y="170" width="1" height="15" fill="#00ff00"/>
<rect x="793" y="176" width="5" height="4" fill="#00ff00"/>
<rect x="794" y="177" width="3" height="2" fill="#fff"/>
<rect x="803" y="177" width="1" height="37" fill="#00ff00"/>
<rect x="801" y="178" width="5" height="20" fill="#00ff00"/>
<rect x="802" y="179" width="3" height="18" fill="#fff"/>
<rect x="811" y="185" width="1" height="25" fill="#00ff00"/>
<rect x="809" y="193" width="5" height="5" fill="#00ff00"/>
<rect x="810" y="194" width="3" height="3" fill="#000"/>
<rect x="819" y="189" width="1" height="24" fill="#00ff00"/>
<rect x="817" y="194" width="5" height="5" fill="#00ff00"/>
<rect x="818" y="195" width="3" height="3" fill="#fff"/>
<rect x="827" y="188" width="1" height="22" fill="#00ff00"/>
<rect x="825" y="198" width="5" height="5" fill="#00ff00"/>
<rect x="826" y="199" width="3" height="3" fill="#fff"/>
<rect x="835" y="185" width="1" height="24" fill="#00ff00"/>
<rect x="833" y="187" width="5" height="15" fill="#00ff00"/>
<rect x="834" y="188" width="3" height="13" fill="#000"/>
<rect x="843" y="171" width="1" height="21" fill="#00ff00"/>
<rect x="841" y="178" width="5" height="9" fill="#00ff00"/>
<rect x="842" y="179" width="3" height="7" fill="#000"/>
<rect x="851" y="170" width="1" height="16" fill="#00ff00"/>
<rect x="849" y="174" width="5" height="6" fill="#00ff00"/>
<rect x="850" y="175" width="3" height="4" fill="#000"/>
<rect x="859" y="173" width="1" height="22" fill="#00ff00"/>
<rect x="857" y="174" width="5" height="19" fill="#00ff00"/>
<rect x="858" y="175" width="3" height="17" fill="#fff"/>
<rect x="867" y="180" width="1" height="15" fill="#00ff00"/>
<rect x="865" y="189" width="5" height="4" fill="#00ff00"/>
<rect x="866" y="190" width="3" height="2" fill="#000"/>
<rect x="875" y="181" width="1" height="18" fill="#00ff00"/>
<rect x="873" y="182" width="5" height="7" fill="#00ff00"/>
<rect x="874" y="183" width="3" height="5" fill="#000"/>
<rect x="883" y="180" width="1" height="16" fill="#00ff00"/>
<rect x="881" y="183" width="5" height="7" fill="#00ff00"/>
<rect x="882" y="184" width="3" height="5" fill="#fff"/>
<rect x="891" y="186" width="1" height="17" fill="#00ff00"/>
<rect x="889" y="189" width="5" height="13" fill="#00ff00"/>
<rect x="890" y="190" width="3" height="11" fill="#fff"/>
<rect x="899" y="194" width="1" height="16" fill="#00ff00"/>
<rect x="897" y="201" width="5" height="3" fill="#00ff00"/>
<rect x="898" y="202" width="3" height="1" fill="#fff"/>
<rect x="907" y="188" width="1" height="50" fill="#00ff00"/>
<rect x="905" y="203" width="5" height="34" fill="#00ff00"/>
<rect x="906" y="204" width="3" height="32" fill="#fff"/>
<rect x="915" y="231" width="1" height="20" fill="#00ff00"/>
<rect x="913" y="236" width="5" height="3" fill="#00ff00"/>
<rect x="914" y="237" width="3" height="1" fill="#fff"/>
<rect x="923" y="227" width="1" height="24" fill="#00ff00"/>
<rect x="921" y="238" width="5" height="6" fill="#00ff00"/>
<rect x="922" y="239" width="3" height="4" fill="#fff"/>
<rect x="931" y="236" width="1" height="39" fill="#00ff00"/>
<rect x="929" y="243" width="5" height="31" fill="#00ff00"/>
<rect x="930" y="244" width="3" height="29" fill="#fff"/>
<rect x="939" y="269" width="1" height="59" fill="#00ff00"/>
<rect x="937" y="273" width="5" height="37" fill="#00ff00"/>
<rect x="938" y="274" width="3" height="35" fill="#fff"/>
<rect x="947" y="307" width="1" height="38" fill="#00ff00"/>
<rect x="945" y="310" width="5" height="23" fill="#00ff00"/>
<rect x="946" y="311" width="3" height="21" fill="#fff"/>
<rect x="955" y="314" width="1" height="43" fill="#00ff00"/>
<rect x="953" y="332" width="5" height="2" fill="#00ff00"/>
<rect x="963" y="319" width="1" height="28" fill="#00ff00"/>
<rect x="961" y="323" width="5" height="12" fill="#00ff00"/>
<rect x="962" y="324" width="3" height="10" fill="#000"/>
<rect x="971" y="307" width="1" height="35" fill="#00ff00"/>
<rect x="969" y="320" width="5" height="3" fill="#00ff00"/>
<rect x="970" y="321" width="3" height="1" fill="#000"/>
<rect x="979" y="312" width="1" height="28" fill="#00ff00"/>
<rect x="977" y="320" width="5" height="4" fill="#00ff00"/>
<rect x="978" y="321" width="3" height="2" fill="#fff"/>
<rect x="987" y="305" width="1" height="51" fill="#00ff00"/>
<rect x="985" y="322" width="5" height="30" fill="#00ff00"/>
<rect x="986" y="323" width="3" height="28" fill="#fff"/>
<rect x="995" y="312" width="1" height="54" fill="#00ff00"/>
<rect x="993" y="328" width="5" height="26" fill="#00ff00"/>
<rect x="994" y="329" width="3" height="24" fill="#000"/>
<rect x="1003" y="309" width="1" height="23" fill="#00ff00"/>
<rect x="1001" y="321" width="5" height="7" fill="#00ff00"/>
<rect x="1002" y="322" width="3" height="5" fill="#000"/>
<rect x="1011" y="300" width="1" height="24" fill="#00ff00"/>
<rect x="1009" y="303" width="5" height="15" fill="#00ff00"/>
<rect x="1010" y="304" width="3" height="13" fill="#000"/>
<rect x="1019" y="299" width="1" height="41" fill="#00ff00"/>
<rect x="1017" y="303" width="5" height="35" fill="#00ff00"/>
<rect x="1018" y="304" width="3" height="33" fill="#fff"/>
<rect x="1027" y="334" width="1" height="44" fill="#00ff00"/>
<rect x="1025" y="338" width="5" height="12" fill="#00ff00"/>
<rect x="1026" y="339" width="3" height="10" fill="#fff"/>
<rect x="1035" y="315" width="1" height="41" fill="#00ff00"/>
<rect x="1033" y="325" width="5" height="26" fill="#00ff00"/>
<rect x="1034" y="326" width="3" height="24" fill="#000"/>
<rect x="1043" y="313" width="1" height="41" fill="#00ff00"/>
<rect x="1041" y="324" width="5" height="11" fill="#00ff00"/>
<rect x="1042" y="325" width="3" height="9" fill="#fff"/>
<rect x="1051" y="313" width="1" height="33" fill="#00ff00"/>
<rect x="1049" y="314" width="5" height="21" fill="#00ff00"/>
<rect x="1050" y="315" width="3" height="19" fill="#000"/>
<rect x="1059" y="302" width="1" height="21" fill="#00ff00"/>
<rect x="1057" y="313" width="5" height="5" fill="#00ff00"/>
<rect x="1058" y="314" width="3" height="3" fill="#fff"/>
<rect x="1067" y="314" width="1" height="16" fill="#00ff00"/>
<rect x="1065" y="318" width="5" height="2" fill="#00ff00"/>
<rect x="1075" y="278" width="1" height="25" fill="#00ff00"/>
<rect x="1073" y="283" width="5" height="15" fill="#00ff00"/>
<rect x="1074" y="284" width="3" height="13" fill="#000"/>
<rect x="1083" y="258" width="1" height="29" fill="#00ff00"/>
<rect x="1081" y="266" width="5" height="18" fill="#00ff00"/>
<rect x="1082" y="267" width="3" height="16" fill="#000"/>
<rect x="1091" y="249" width="1" height="31" fill="#00ff00"/>
<rect x="1089" y="266" width="5" height="7" fill="#00ff00"/>
<rect x="1090" y="267" width="3" height="5" fill="#fff"/>
<rect x="1099" y="268" width="1" height="13" fill="#00ff00"/>
<rect x="1097" y="273" width="5" height="7" fill="#00ff00"/>
<rect x="1098" y="274" width="3" height="5" fill="#fff"/>
<rect x="1107" y="277" width="1" height="25" fill="#00ff00"/>
<rect x="1105" y="279" width="5" height="16" fill="#00ff00"/>
<rect x="1106" y="280" width="3" height="14" fill="#fff"/>
<rect x="1115" y="278" width="1" height="23" fill="#00ff00"/>
<rect x="1113" y="282" width="5" height="12" fill="#00ff00"/>
<rect x="1114" y="283" width="3" height="10" fill="#000"/>
<rect x="1123" y="272" width="1" height="26" fill="#00ff00"/>
<rect x="1121" y="281" width="5" height="10" fill="#00ff00"/>
<rect x="1122" y="282" width="3" height="8" fill="#fff"/>
<rect x="1131" y="279" width="1" height="18" fill="#00ff00"/>
<rect x="1129" y="288" width="5" height="4" fill="#00ff00"/>
<rect x="1130" y="289" width="3" height="2" fill="#000"/>
<rect x="1139" y="285" width="1" height="37" fill="#00ff00"/>
<rect x="1137" y="288" width="5" height="29" fill="#00ff00"/>
<rect x="1138" y="289" width="3" height="27" fill="#fff"/>
<rect x="1147" y="313" width="1" height="27" fill="#00ff00"/>
<rect x="1145" y="317" width="5" height="21" fill="#00ff00"/>
<rect x="1146" y="318" width="3" height="19" fill="#fff"/>
<rect x="1155" y="317" width="1" height="31" fill="#00ff00"/>
<rect x="1153" y="317" width="5" height="21" fill="#00ff00"/>
<rect x="1154" y="318" width="3" height="19" fill="#000"/>
<rect x="1163" y="297" width="1" height="23" fill="#00ff00"/>
<rect x="1161" y="301" width="5" height="16" fill="#00ff00"/>
<rect x="1162" y="302" width="3" height="14" fill="#000"/>
<rect x="1171" y="289" width="1" height="20" fill="#00ff00"/>
<rect x="1169" y="300" width="5" height="4" fill="#00ff00"/>
<rect x="1170" y="301" width="3" height="2" fill="#fff"/>
<rect x="1179" y="279" width="1" height="27" fill="#00ff00"/>
<rect x="1177" y="303" width="5" height="3" fill="#00ff00"/>
<rect x="1178" y="304" width="3" height="1" fill="#fff"/>
<rect x="1187" y="301" width="1" height="36" fill="#00ff00"/>
<rect x="1185" y="304" width="5" height="7" fill="#00ff00"/>
<rect x="1186" y="305" width="3" height="5" fill="#fff"/>
<rect x="1195" y="306" width="1" height="15" fill="#00ff00"/>
<rect x="1193" y="311" width="5" height="4" fill="#00ff00"/>
<rect x="1194" y="312" width="3" height="2" fill="#fff"/>
<rect x="1203" y="308" width="1" height="25" fill="#00ff00"/>
<rect x="1201" y="314" width="5" height="19" fill="#00ff00"/>
<rect x="1202" y="315" width="3" height="17" fill="#fff"/>
<rect x="1211" y="328" width="1" height="2" fill="#00ff00"/>
<rect x="1209" y="328" width="5" height="2" fill="#00ff00"/>
</g>
<circle cx="51.0" cy="71.5" r="2.45" fill="#ff0000"/>
<circle cx="267.0" cy="18.5" r="2.45" fill="#ff0000"/>
<circle cx="474.7" cy="29.4" r="2.45" fill="#ff0000"/>
<circle cx="498.7" cy="29.4" r="2.45" fill="#ff0000"/>
<circle cx="763.0" cy="121.8" r="2.45" fill="#ff0000"/>
<circle cx="874.8" cy="172.8" r="2.45" fill="#ff0000"/>
<circle cx="1098.7" cy="256.5" r="2.45" fill="#ff0000"/>
<circle cx="67.0" cy="123.4" r="2.45" fill="#fff000"/>
<circle cx="354.5" cy="110.5" r="2.45" fill="#fff000"/>
<circle cx="482.5" cy="65.4" r="2.45" fill="#fff000"/>
<circle cx="682.6" cy="203.4" r="2.45" fill="#fff000"/>
<circle cx="826.8" cy="220.4" r="2.45" fill="#fff000"/>
<circle cx="994.5" cy="385.3" r="2.45" fill="#fff000"/>
<circle cx="1146.7" cy="351.7" r="2.45" fill="#fff000"/>
<g shape-rendering="crispEdges">
</g>
<text x="8.2" y="14" fill="#fff" font-size="10" text-anchor="start" textLength="157.5" lengthAdjust="spacingAndGlyphs" xml:space="preserve" stroke="#fff" stroke-width="0.12">AUDJPY,H4&#160; 74.58 74.63 74.58 74.62</text>
<g shape-rendering="crispEdges">
<line x1="3" y1="12.5" x2="1232" y2="12.5" stroke="#ffff00" stroke-width="1"/>
<line x1="3" y1="92.5" x2="1232" y2="92.5" stroke="#ffff00" stroke-width="1"/>
<line x1="3" y1="172.5" x2="1232" y2="172.5" stroke="#ffff00" stroke-width="1"/>
<line x1="3" y1="271.5" x2="1232" y2="271.5" stroke="#ffff00" stroke-width="1"/>
<line x1="515" y1="39.319" x2="1232" y2="299.339" stroke="#ff00ff" stroke-width="1"/>
<line x1="1027" y1="378.670" x2="1232" y2="329.572" stroke="#ff00ff" stroke-width="1"/>
</g>
<g shape-rendering="crispEdges" fill="none">
<polyline points="3.5,461.8 11.5,454.3 19.5,450.6 27.5,446.6 35.5,435.9 43.5,428.5 51.5,428.3 59.5,439.6 67.5,470.2 75.5,495.2 83.5,497.8 91.5,466.0 99.5,432.6 107.5,412.7 115.5,411.9 123.5,419.8 131.5,427.7 139.5,427.2 147.5,425.2 155.5,432.6 163.5,453.8 171.5,476.5 179.5,480.4 187.5,471.2 195.5,461.8 203.5,470.8 211.5,492.4 219.5,512.0 227.5,520.2 235.5,508.8 243.5,483.4 251.5,451.7 259.5,431.4 267.5,428.4 275.5,440.9 283.5,463.6 291.5,497.3 299.5,524.4 307.5,537.2 315.5,532.5 323.5,527.6 331.5,532.4 339.5,539.2 347.5,544.7 355.5,541.0 363.5,530.9 371.5,511.4 379.5,488.9 387.5,470.1 395.5,460.5 403.5,454.6 411.5,448.5 419.5,438.6 427.5,425.9 435.5,414.9 443.5,407.6 451.5,419.0 459.5,445.7 467.5,486.5 475.5,500.4 483.5,501.1 491.5,490.3 499.5,494.5 507.5,489.8 515.5,487.8 523.5,500.9 531.5,523.8 539.5,545.9 547.5,552.9 555.5,564.1 563.5,568.9 571.5,569.4 579.5,552.3 587.5,534.0 595.5,508.8 603.5,503.3 611.5,501.1 619.5,515.6 627.5,514.7 635.5,515.9 643.5,516.8 651.5,526.4 659.5,534.2 667.5,532.3 675.5,529.9 683.5,532.1 691.5,530.4 699.5,515.0 707.5,481.1 715.5,452.7 723.5,436.5 731.5,430.6 739.5,423.8 747.5,420.7 755.5,424.7 763.5,432.8 771.5,448.4 779.5,478.3 787.5,520.1 795.5,550.5 803.5,559.7 811.5,550.7 819.5,537.7 827.5,528.8 835.5,517.5 843.5,499.5 851.5,466.5 859.5,446.6 867.5,444.4 875.5,464.9 883.5,481.3 891.5,502.1 899.5,522.3 907.5,548.0 915.5,559.7 923.5,565.0 931.5,563.6 939.5,565.7 947.5,567.0 955.5,564.4 963.5,558.4 971.5,547.1 979.5,530.1 987.5,516.8 995.5,504.3 1003.5,498.1 1011.5,474.0 1019.5,459.0 1027.5,454.3 1035.5,471.8 1043.5,482.3 1051.5,476.0 1059.5,462.4 1067.5,447.0 1075.5,437.6 1083.5,427.7 1091.5,422.1 1099.5,424.9 1107.5,441.5 1115.5,467.6 1123.5,500.6 1131.5,517.8 1139.5,531.1 1147.5,538.4 1155.5,546.7 1163.5,535.6 1171.5,507.3 1179.5,477.9 1187.5,464.5 1195.5,468.6 1203.5,488.0 1211.5,514.5" stroke="#ff0000" stroke-width="1" stroke-dasharray="3 3"/>
<polyline points="3.5,445.0 11.5,458.4 19.5,448.4 27.5,433.0 35.5,426.2 43.5,426.2 51.5,432.6 59.5,460.0 67.5,518.0 75.5,507.5 83.5,468.0 91.5,422.5 99.5,407.2 107.5,408.4 115.5,420.0 123.5,431.0 131.5,432.2 139.5,418.4 147.5,425.0 155.5,454.3 163.5,482.0 171.5,493.3 179.5,466.0 187.5,454.3 195.5,465.0 203.5,493.0 211.5,519.2 219.5,523.7 227.5,517.6 235.5,485.0 243.5,447.6 251.5,422.5 259.5,424.2 267.5,438.4 275.5,460.0 283.5,492.5 291.5,539.3 299.5,541.4 307.5,531.0 315.5,525.0 323.5,526.7 331.5,545.4 339.5,545.4 347.5,543.4 355.5,534.2 363.5,515.0 371.5,485.0 379.5,466.8 387.5,458.4 395.5,456.4 403.5,449.0 411.5,440.0 419.5,426.7 427.5,410.9 435.5,407.2 443.5,404.7 451.5,445.0 459.5,487.5 467.5,527.0 475.5,486.6 483.5,489.7 491.5,494.7 499.5,499.2 507.5,475.5 515.5,488.8 523.5,538.4 531.5,544.3 539.5,555.1 547.5,559.3 555.5,578.0 563.5,569.3 571.5,561.0 579.5,526.7 587.5,514.2 595.5,485.5 603.5,510.2 611.5,507.5 619.5,529.2 627.5,507.5 635.5,510.9 643.5,532.0 651.5,536.4 659.5,534.2 667.5,526.2 675.5,529.2 683.5,541.0 691.5,521.0 699.5,483.0 707.5,439.2 715.5,436.0 723.5,434.2 731.5,421.7 739.5,415.4 747.5,425.0 755.5,433.7 763.5,439.7 771.5,471.8 779.5,523.4 787.5,565.1 795.5,563.1 803.5,551.0 811.5,538.0 819.5,524.2 827.5,524.2 835.5,504.2 843.5,470.0 851.5,425.4 859.5,444.3 867.5,463.5 875.5,487.0 883.5,493.3 891.5,526.0 899.5,547.6 907.5,570.5 915.5,561.0 923.5,563.5 931.5,566.3 939.5,567.3 947.5,567.3 955.5,558.5 963.5,549.3 971.5,533.4 979.5,507.5 987.5,509.5 995.5,495.9 1003.5,489.0 1011.5,437.0 1019.5,451.0 1027.5,475.0 1035.5,489.3 1043.5,482.7 1051.5,456.0 1059.5,448.4 1067.5,436.7 1075.5,427.6 1083.5,418.7 1091.5,420.0 1099.5,436.0 1107.5,468.5 1115.5,498.4 1123.5,535.0 1131.5,520.0 1139.5,538.4 1147.5,556.8 1155.5,545.0 1163.5,505.0 1171.5,471.8 1179.5,456.8 1187.5,465.0 1195.5,484.0 1203.5,515.0 1211.5,544.6" stroke="#20b2aa" stroke-width="1"/>
</g>
<g shape-rendering="crispEdges" fill="#fff">
<rect x="2" y="2" width="1231" height="1"/>
<rect x="2" y="2" width="1" height="388"/>
<rect x="2" y="389" width="1231" height="1"/>
<rect x="2" y="391" width="1231" height="1"/>
<rect x="2" y="391" width="1" height="194"/>
<rect x="1232" y="2" width="1" height="388"/>
<rect x="1232" y="391" width="1" height="194"/>
<rect x="2" y="584" width="1231" height="1"/>
<rect x="1233" y="33" width="2" height="1"/>
<rect x="1233" y="65" width="2" height="1"/>
<rect x="1233" y="97" width="2" height="1"/>
<rect x="1233" y="129" width="2" height="1"/>
<rect x="1233" y="162" width="2" height="1"/>
<rect x="1233" y="194" width="2" height="1"/>
<rect x="1233" y="226" width="2" height="1"/>
<rect x="1233" y="258" width="2" height="1"/>
<rect x="1233" y="291" width="2" height="1"/>
<rect x="1233" y="323" width="2" height="1"/>
<rect x="1233" y="355" width="2" height="1"/>
<rect x="1233" y="387" width="2" height="1"/>
<rect x="1233" y="393" width="1" height="1"/>
<rect x="3" y="585" width="1" height="3"/>
<rect x="67" y="585" width="1" height="3"/>
<rect x="131" y="585" width="1" height="3"/>
<rect x="195" y="585" width="1" height="3"/>
<rect x="259" y="585" width="1" height="3"/>
<rect x="323" y="585" width="1" height="3"/>
<rect x="387" y="585" width="1" height="3"/>
<rect x="451" y="585" width="1" height="3"/>
<rect x="515" y="585" width="1" height="3"/>
<rect x="579" y="585" width="1" height="3"/>
<rect x="643" y="585" width="1" height="3"/>
<rect x="707" y="585" width="1" height="3"/>
<rect x="771" y="585" width="1" height="3"/>
<rect x="835" y="585" width="1" height="3"/>
<rect x="899" y="585" width="1" height="3"/>
<rect x="963" y="585" width="1" height="3"/>
<rect x="1027" y="585" width="1" height="3"/>
<rect x="1091" y="585" width="1" height="3"/>
<rect x="1155" y="585" width="1" height="3"/>
</g>
<text x="1238" y="36" fill="#fff" font-size="10" text-anchor="start" textLength="23.3" lengthAdjust="spacingAndGlyphs" stroke="#fff" stroke-width="0.12">82.50</text>
<text x="1238" y="68" fill="#fff" font-size="10" text-anchor="start" textLength="23.3" lengthAdjust="spacingAndGlyphs" stroke="#fff" stroke-width="0.12">81.65</text>
<text x="1238" y="100" fill="#fff" font-size="10" text-anchor="start" textLength="23.3" lengthAdjust="spacingAndGlyphs" stroke="#fff" stroke-width="0.12">80.80</text>
<text x="1238" y="132" fill="#fff" font-size="10" text-anchor="start" textLength="23.3" lengthAdjust="spacingAndGlyphs" stroke="#fff" stroke-width="0.12">79.95</text>
<text x="1238" y="165" fill="#fff" font-size="10" text-anchor="start" textLength="23.3" lengthAdjust="spacingAndGlyphs" stroke="#fff" stroke-width="0.12">79.05</text>
<text x="1238" y="197" fill="#fff" font-size="10" text-anchor="start" textLength="23.3" lengthAdjust="spacingAndGlyphs" stroke="#fff" stroke-width="0.12">78.20</text>
<text x="1238" y="229" fill="#fff" font-size="10" text-anchor="start" textLength="23.3" lengthAdjust="spacingAndGlyphs" stroke="#fff" stroke-width="0.12">77.35</text>
<text x="1238" y="261" fill="#fff" font-size="10" text-anchor="start" textLength="23.3" lengthAdjust="spacingAndGlyphs" stroke="#fff" stroke-width="0.12">76.50</text>
<text x="1238" y="294" fill="#fff" font-size="10" text-anchor="start" textLength="23.3" lengthAdjust="spacingAndGlyphs" stroke="#fff" stroke-width="0.12">75.60</text>
<text x="1238" y="326" fill="#fff" font-size="10" text-anchor="start" textLength="23.3" lengthAdjust="spacingAndGlyphs" stroke="#fff" stroke-width="0.12">74.75</text>
<text x="1238" y="358" fill="#fff" font-size="10" text-anchor="start" textLength="23.3" lengthAdjust="spacingAndGlyphs" stroke="#fff" stroke-width="0.12">73.90</text>
<text x="1238" y="390" fill="#fff" font-size="10" text-anchor="start" textLength="23.3" lengthAdjust="spacingAndGlyphs" stroke="#fff" stroke-width="0.12">73.05</text>
<text x="1213.3" y="10" fill="#ffff00" font-size="10" text-anchor="start" textLength="17.5" lengthAdjust="spacingAndGlyphs" stroke="#ffff00" stroke-width="0.12">61.8</text>
<text x="1213.3" y="90" fill="#ffff00" font-size="10" text-anchor="start" textLength="17.5" lengthAdjust="spacingAndGlyphs" stroke="#ffff00" stroke-width="0.12">50.0</text>
<text x="1213.3" y="170" fill="#ffff00" font-size="10" text-anchor="start" textLength="17.5" lengthAdjust="spacingAndGlyphs" stroke="#ffff00" stroke-width="0.12">38.2</text>
<text x="1213.3" y="269" fill="#ffff00" font-size="10" text-anchor="start" textLength="17.5" lengthAdjust="spacingAndGlyphs" stroke="#ffff00" stroke-width="0.12">23.6</text>
<text x="1236.5" y="402" fill="#fff" font-size="10" text-anchor="start" textLength="15.3" lengthAdjust="spacingAndGlyphs" stroke="#fff" stroke-width="0.12">100</text>
<text x="1235.2" y="434" fill="#fff" font-size="10" text-anchor="start" textLength="10.2" lengthAdjust="spacingAndGlyphs" stroke="#fff" stroke-width="0.12">80</text>
<text x="1235.5" y="548" fill="#fff" font-size="10" text-anchor="start" textLength="10.2" lengthAdjust="spacingAndGlyphs" stroke="#fff" stroke-width="0.12">20</text>
<text x="1236.3" y="581" fill="#fff" font-size="10" text-anchor="start" textLength="5.1" lengthAdjust="spacingAndGlyphs" stroke="#fff" stroke-width="0.12">0</text>
<text x="2.2" y="597" fill="#fff" font-size="10" text-anchor="start" textLength="52.7" lengthAdjust="spacingAndGlyphs" stroke="#fff" stroke-width="0.12">25 Aug 2011</text>
<text x="66.2" y="597" fill="#fff" font-size="10" text-anchor="start" textLength="55.2" lengthAdjust="spacingAndGlyphs" stroke="#fff" stroke-width="0.12">26 Aug 08:00</text>
<text x="130.2" y="597" fill="#fff" font-size="10" text-anchor="start" textLength="55.2" lengthAdjust="spacingAndGlyphs" stroke="#fff" stroke-width="0.12">29 Aug 16:00</text>
<text x="194.2" y="597" fill="#fff" font-size="10" text-anchor="start" textLength="55.2" lengthAdjust="spacingAndGlyphs" stroke="#fff" stroke-width="0.12">31 Aug 00:00</text>
<text x="258.2" y="597" fill="#fff" font-size="10" text-anchor="start" textLength="49.0" lengthAdjust="spacingAndGlyphs" stroke="#fff" stroke-width="0.12">1 Sep 12:00</text>
<text x="322.2" y="597" fill="#fff" font-size="10" text-anchor="start" textLength="49.0" lengthAdjust="spacingAndGlyphs" stroke="#fff" stroke-width="0.12">5 Sep 04:00</text>
<text x="386.2" y="597" fill="#fff" font-size="10" text-anchor="start" textLength="49.0" lengthAdjust="spacingAndGlyphs" stroke="#fff" stroke-width="0.12">6 Sep 16:00</text>
<text x="450.2" y="597" fill="#fff" font-size="10" text-anchor="start" textLength="49.0" lengthAdjust="spacingAndGlyphs" stroke="#fff" stroke-width="0.12">8 Sep 00:00</text>
<text x="514.2" y="597" fill="#fff" font-size="10" text-anchor="start" textLength="49.0" lengthAdjust="spacingAndGlyphs" stroke="#fff" stroke-width="0.12">9 Sep 08:00</text>
<text x="578.2" y="597" fill="#fff" font-size="10" text-anchor="start" textLength="54.4" lengthAdjust="spacingAndGlyphs" stroke="#fff" stroke-width="0.12">12 Sep 16:00</text>
<text x="642.2" y="597" fill="#fff" font-size="10" text-anchor="start" textLength="54.4" lengthAdjust="spacingAndGlyphs" stroke="#fff" stroke-width="0.12">14 Sep 00:00</text>
<text x="706.2" y="597" fill="#fff" font-size="10" text-anchor="start" textLength="54.4" lengthAdjust="spacingAndGlyphs" stroke="#fff" stroke-width="0.12">15 Sep 12:00</text>
<text x="770.2" y="597" fill="#fff" font-size="10" text-anchor="start" textLength="54.4" lengthAdjust="spacingAndGlyphs" stroke="#fff" stroke-width="0.12">18 Sep 22:00</text>
<text x="834.2" y="597" fill="#fff" font-size="10" text-anchor="start" textLength="54.4" lengthAdjust="spacingAndGlyphs" stroke="#fff" stroke-width="0.12">20 Sep 04:00</text>
<text x="898.2" y="597" fill="#fff" font-size="10" text-anchor="start" textLength="54.4" lengthAdjust="spacingAndGlyphs" stroke="#fff" stroke-width="0.12">21 Sep 12:00</text>
<text x="962.2" y="597" fill="#fff" font-size="10" text-anchor="start" textLength="54.4" lengthAdjust="spacingAndGlyphs" stroke="#fff" stroke-width="0.12">22 Sep 20:00</text>
<text x="1026.2" y="597" fill="#fff" font-size="10" text-anchor="start" textLength="54.4" lengthAdjust="spacingAndGlyphs" stroke="#fff" stroke-width="0.12">26 Sep 04:00</text>
<text x="1090.2" y="597" fill="#fff" font-size="10" text-anchor="start" textLength="54.4" lengthAdjust="spacingAndGlyphs" stroke="#fff" stroke-width="0.12">27 Sep 16:00</text>
<text x="1154.2" y="597" fill="#fff" font-size="10" text-anchor="start" textLength="54.4" lengthAdjust="spacingAndGlyphs" stroke="#fff" stroke-width="0.12">29 Sep 00:00</text>
<text x="7.3" y="405" fill="#fff" font-size="10" text-anchor="start" textLength="121.7" lengthAdjust="spacingAndGlyphs" stroke="#fff" stroke-width="0.12">Stoch(5,3,3) 20.0883 35.7273</text>
<text x="6.5" y="579" fill="#fff" font-size="10" text-anchor="start" textLength="230.3" lengthAdjust="spacingAndGlyphs" stroke="#fff" stroke-width="0.12">HY Trader, ? 2001-2011 MetaQuotes Software Corp.</text>
<text x="23.4" y="38" fill="#808080" font-size="16.6" text-anchor="start" textLength="283.6" lengthAdjust="spacingAndGlyphs">Secret Indicator Made 127,912$ in 2009!</text>
<text x="23.4" y="58" fill="#808080" font-size="16.6" text-anchor="start" textLength="172" lengthAdjust="spacingAndGlyphs">Visit IndicatorForex.com!</text>
<rect x="1234" y="322" width="31" height="11" fill="#fff" shape-rendering="crispEdges"/>
<text x="1238" y="331" fill="#000" font-size="10" text-anchor="start" textLength="23.3" lengthAdjust="spacingAndGlyphs" stroke="#000" stroke-width="0.12">74.62</text>
</svg>
</body></html>
